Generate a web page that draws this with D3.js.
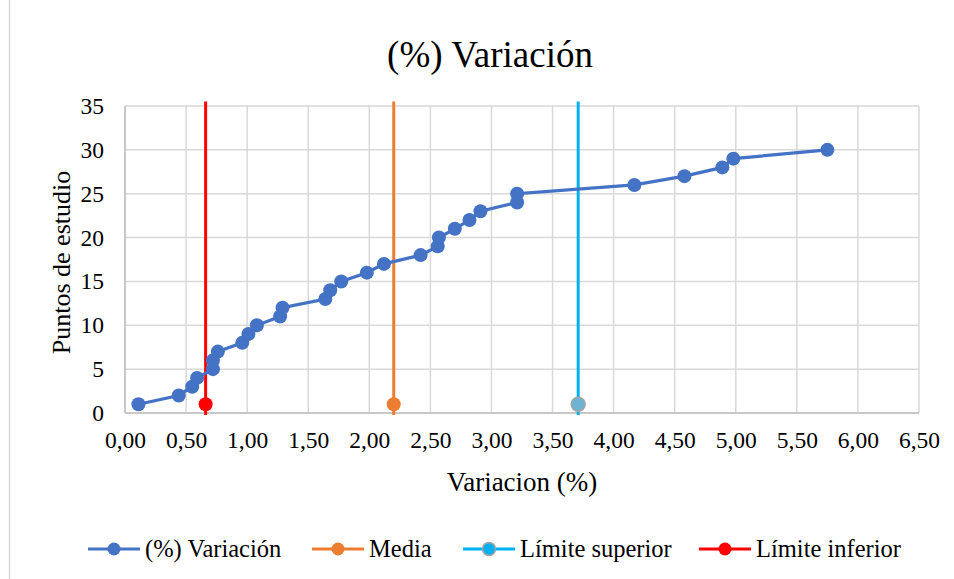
<!DOCTYPE html>
<html>
<head>
<meta charset="utf-8">
<script src="https://cdn.jsdelivr.net/npm/d3@7"></script>
<style>
  html, body { margin: 0; padding: 0; background: #fff; }
  svg { display: block; }
  svg text { font-family: "Liberation Serif", "Times New Roman", serif; }
</style>
</head>
<body>
<svg id="chart" width="954" height="579"></svg>
<script>
// Variation (%) per study point, sorted ascending
const variacion = [0.11, 0.44, 0.55, 0.59, 0.72, 0.72, 0.76, 0.96, 1.01, 1.08,
                   1.27, 1.29, 1.64, 1.68, 1.77, 1.98, 2.12, 2.42, 2.56, 2.57,
                   2.70, 2.82, 2.91, 3.21, 3.21, 4.17, 4.58, 4.89, 4.98, 5.75];
const puntos = d3.range(1, variacion.length + 1);

// Reference lines
const media = 2.20;
const limiteSuperior = 3.71;
const limiteInferior = 0.66;

const xTicks = d3.range(0, 6.51, 0.5);
const yTicks = d3.range(0, 36, 5);

const colors = {
  variacion: "#4472C4",
  media: "#ED7D31",
  superior: "#00B0F0",
  inferior: "#FF0000"
};

const svg = d3.select("#chart");
const W = 954, H = 579;
const m = { left: 125, right: 35, top: 106, bottom: 166 };
const FONT = "Liberation Serif";

// chart frame (left edge visible)
svg.append("rect")
  .attr("x", 9.5).attr("y", -2).attr("width", 960).attr("height", H + 4)
  .attr("fill", "#fff").attr("stroke", "#D9D9D9").attr("stroke-width", 1.5);

const x = d3.scaleLinear().domain([0, 6.5]).range([m.left, W - m.right]);
const y = d3.scaleLinear().domain([0, 35]).range([H - m.bottom, m.top]);

// gridlines
const grid = svg.append("g");
grid.selectAll("line.v").data(xTicks).join("line")
  .attr("x1", d => x(d)).attr("x2", d => x(d))
  .attr("y1", y(0)).attr("y2", y(35))
  .attr("stroke", "#D9D9D9").attr("stroke-width", 1.5);
grid.selectAll("line.h").data(yTicks).join("line")
  .attr("x1", x(0)).attr("x2", x(6.5))
  .attr("y1", d => y(d)).attr("y2", d => y(d))
  .attr("stroke", "#D9D9D9").attr("stroke-width", 1.5);

// axis lines
svg.append("line").attr("x1", x(0)).attr("x2", x(0)).attr("y1", y(0)).attr("y2", y(35))
  .attr("stroke", "#BFBFBF").attr("stroke-width", 1.5);
svg.append("line").attr("x1", x(0)).attr("x2", x(6.5)).attr("y1", y(0)).attr("y2", y(0))
  .attr("stroke", "#BFBFBF").attr("stroke-width", 1.5);

// axes (labels only)
const fmt = d => d.toFixed(2).replace(".", ",");
const xAxis = svg.append("g")
  .attr("transform", `translate(0,${y(0)})`)
  .call(d3.axisBottom(x).tickValues(xTicks).tickFormat(fmt).tickSize(0).tickPadding(18));
const yAxis = svg.append("g")
  .attr("transform", `translate(${x(0)},0)`)
  .call(d3.axisLeft(y).tickValues(yTicks).tickSize(0).tickPadding(21));
[xAxis, yAxis].forEach(a => {
  a.attr("font-family", FONT).attr("font-size", 23.5);
  a.select(".domain").remove();
  a.selectAll("text").attr("fill", "#000");
});

// reference lines
const refs = [
  { v: limiteInferior, c: colors.inferior, stroke: null },
  { v: media, c: colors.media, stroke: null },
  { v: limiteSuperior, c: colors.superior, stroke: "#A5A5A5" }
];
const refG = svg.append("g");
refs.forEach(r => {
  refG.append("line")
    .attr("x1", x(r.v)).attr("x2", x(r.v))
    .attr("y1", y(0) + 2).attr("y2", y(35.5))
    .attr("stroke", r.c).attr("stroke-width", 3);
  refG.append("circle")
    .attr("cx", x(r.v)).attr("cy", y(1)).attr("r", 7)
    .attr("fill", r.stroke ? "#6fb3d3" : r.c)
    .attr("stroke", r.stroke || r.c).attr("stroke-width", r.stroke ? 1.5 : 0);
});

// main series
const pts = variacion.map((v, i) => ({ x: v, y: puntos[i] }));
svg.append("path").datum(pts)
  .attr("fill", "none").attr("stroke", colors.variacion).attr("stroke-width", 3.2)
  .attr("d", d3.line().x(d => x(d.x)).y(d => y(d.y)));
svg.append("g").selectAll("circle").data(pts).join("circle")
  .attr("cx", d => x(d.x)).attr("cy", d => y(d.y)).attr("r", 7)
  .attr("fill", colors.variacion);

// title
svg.append("text").attr("x", 490).attr("y", 67).attr("text-anchor", "middle")
  .attr("font-family", FONT).attr("font-size", 37).attr("fill", "#000").text("(%) Variación");

// axis titles
svg.append("text").attr("x", (x(0) + x(6.5)) / 2).attr("y", 491).attr("text-anchor", "middle")
  .attr("font-family", FONT).attr("font-size", 27).attr("fill", "#000").text("Variacion (%)");
svg.append("text")
  .attr("transform", `translate(70,${(y(0) + y(35)) / 2 + 3}) rotate(-90)`)
  .attr("text-anchor", "middle").attr("font-family", FONT).attr("font-size", 26).attr("fill", "#000")
  .text("Puntos de estudio");

// legend
const legend = [
  { label: "(%) Variación", c: colors.variacion, x0: 88, stroke: null },
  { label: "Media", c: colors.media, x0: 312, stroke: null },
  { label: "Límite superior", c: colors.superior, x0: 463, stroke: "#A5A5A5" },
  { label: "Límite inferior", c: colors.inferior, x0: 699, stroke: null }
];
const lg = svg.append("g").selectAll("g").data(legend).join("g")
  .attr("transform", d => `translate(${d.x0},549)`);
lg.append("line").attr("x1", 0).attr("x2", 52).attr("y1", 0).attr("y2", 0)
  .attr("stroke", d => d.c).attr("stroke-width", 3);
lg.append("circle").attr("cx", 26).attr("cy", 0).attr("r", 6.5)
  .attr("fill", d => d.c)
  .attr("stroke", d => d.stroke || d.c).attr("stroke-width", d => d.stroke ? 1.5 : 0);
lg.append("text").attr("x", 57).attr("y", 8).attr("font-family", FONT).attr("font-size", 24.5)
  .attr("fill", "#000").text(d => d.label);
</script>
</body>
</html>
